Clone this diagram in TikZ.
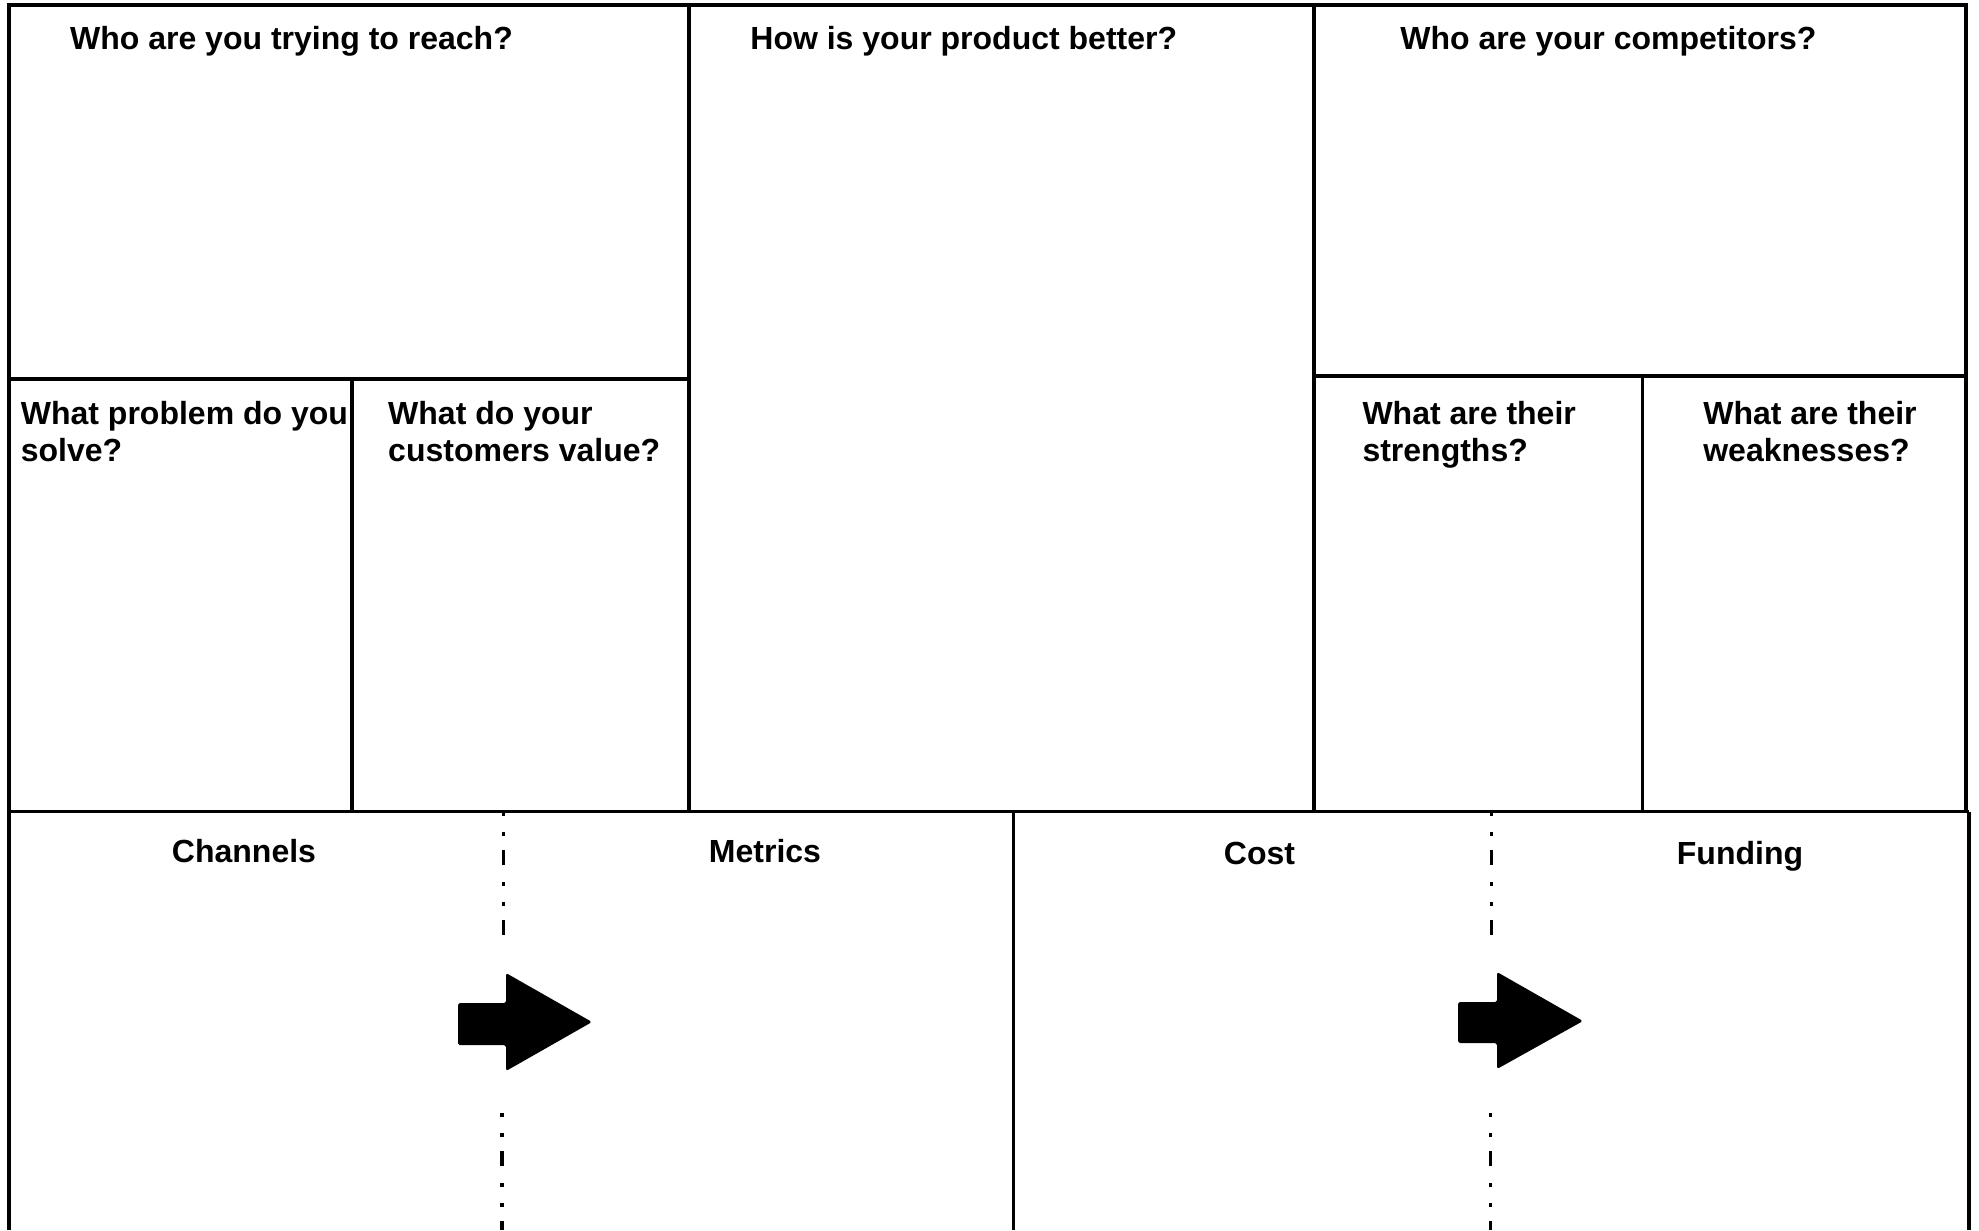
\documentclass[tikz,border=0pt]{standalone}
\usepackage{fontspec}
\setmainfont{Liberation Sans}
\usepackage{tikz}

\begin{document}
\begin{tikzpicture}[x=0.01cm, y=-0.01cm,
        frame/.style={line width=1pt},
        heading/.style={inner sep=0pt, font=\fontsize{9.1pt}{10.4pt}\selectfont\bfseries},
        divider/.style={line width=1.1pt, dash pattern=on 0.04cm off 0.16cm on 0.04cm off 0.14cm on 0.15cm off 0.17cm},
        bigarrow/.style={fill=black, rounded corners=0.5pt}]
    \useasboundingbox (0,0) rectangle (1979,1230);
    \draw[frame, line width=1.2pt] (8.8,1230) -- (8.8,5) -- (1966,5) -- (1966,811.5);
    \draw[frame] (1969,811.5) -- (1969,1230);
    \draw[frame] (689,5) -- (689,811.5);
    \draw[frame] (8.8,379) -- (689,379);
    \draw[frame] (352,379) -- (352,811.5);
    \draw[frame] (1314,5) -- (1314,811.5);
    \draw[frame] (1314,376) -- (1966,376);
    \draw[frame] (1642.5,376) -- (1642.5,811.5);
    \draw[frame] (8.8,811.5) -- (1969,811.5);
    \draw[frame] (1013.5,811.5) -- (1013.5,1230);
        \node[heading, anchor=base west] (reach) at (69.4,49.5) {Who are you trying to reach?};
        \node[heading, anchor=base west] (better) at (749.7,49.5) {How is your product better?};
        \node[heading, anchor=base west] (rivals) at (1399.7,49.5) {Who are your competitors?};
        \node[heading, anchor=north west, align=left] (problem) at (20.2,400.6) {What problem do you\\solve?};
        \node[heading, anchor=north west, align=left] (value) at (387.5,400.6) {What do your\\customers value?};
        \node[heading, anchor=north west, align=left] (strengths) at (1361.8,400.6) {What are their\\strengths?};
        \node[heading, anchor=north west, align=left] (weaknesses) at (1702.6,400.6) {What are their\\weaknesses?};
        \node[heading, anchor=base] (channels) at (244,862) {Channels};
        \node[heading, anchor=base] (metrics) at (765,862) {Metrics};
        \node[heading, anchor=base] (cost) at (1259.5,864.5) {Cost};
        \node[heading, anchor=base] (funding) at (1740,864.5) {Funding};
    \draw[divider] (503.5,812) -- (503.5,936);
    \draw[divider] (502,1113) -- (502,1230);
    \fill[bigarrow] (458,1003) -- (506,1003) -- (506,973) -- (592,1022) -- (506,1071) -- (506,1045) -- (458,1045) -- cycle;
    \draw[divider] (1491.5,812) -- (1491.5,936);
    \draw[divider] (1490.5,1113) -- (1490.5,1230);
    \fill[bigarrow] (1458,1002) -- (1497,1002) -- (1497,972) -- (1583,1021) -- (1497,1069) -- (1497,1043) -- (1458,1043) -- cycle;
\end{tikzpicture}
\end{document}
